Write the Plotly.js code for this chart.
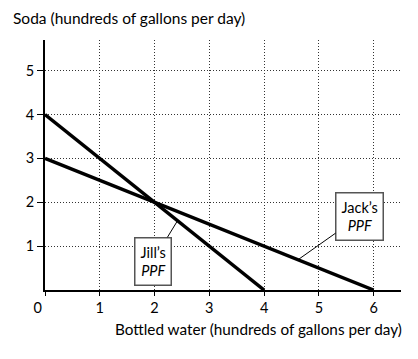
<!DOCTYPE html>
<html>
<head>
<meta charset="utf-8">
<script src="https://cdn.plot.ly/plotly-3.0.1.min.js"></script>
<style>html,body{margin:0;padding:0;background:#fff;}#chart{width:418px;height:359px;}</style>
</head>
<body>
<div id="chart"></div>
<script>
// Data
const jillWater = [0, 4];
const jillSoda = [4, 0];
const jackWater = [0, 6];
const jackSoda = [3, 0];
const xTicks = [0, 1, 2, 3, 4, 5, 6];
const xTickLabels = ['0\u2002\u2002', '1', '2', '3', '4', '5', '6'];
const yTicks = [1, 2, 3, 4, 5];
const yTickLabels = ['1', '2', '3', '4', '5'];

const FONT = 'Lato, "Open Sans", sans-serif';

const traces = [
  {x: jillWater, y: jillSoda, mode: 'lines', line: {color: '#000', width: 3.5}, hoverinfo: 'skip', cliponaxis: false},
  {x: jackWater, y: jackSoda, mode: 'lines', line: {color: '#000', width: 3.5}, hoverinfo: 'skip', cliponaxis: false}
];

const layout = {
  width: 418, height: 359,
  margin: {l: 45, r: 17, t: 40, b: 69},
  paper_bgcolor: '#fff', plot_bgcolor: '#fff',
  showlegend: false,
  font: {family: FONT, color: '#000', size: 14},
  title: {
    text: 'Soda (hundreds of gallons per day)',
    x: 13/418, xanchor: 'left', xref: 'container',
    y: 1 - 19/359, yanchor: 'middle', yref: 'container',
    font: {family: FONT, size: 15.5, color: '#000'}
  },
  xaxis: {
    range: [0, 6.5], tickvals: xTicks, ticktext: xTickLabels,
    showgrid: true, gridcolor: '#333', griddash: '1px,2px', gridwidth: 1,
    zeroline: false, showline: true, linecolor: '#000', linewidth: 2,
    ticks: 'outside', ticklen: 4, tickcolor: '#000',
    tickfont: {family: FONT, size: 14.5, color: '#000'},
    fixedrange: true
  },
  yaxis: {
    range: [0, 5.7], tickvals: yTicks, ticktext: yTickLabels,
    showgrid: true, gridcolor: '#333', griddash: '1px,2px', gridwidth: 1,
    zeroline: false, showline: true, linecolor: '#000', linewidth: 2,
    ticks: 'outside', ticklen: 6, tickcolor: '#000',
    tickfont: {family: FONT, size: 14.5, color: '#000'},
    fixedrange: true
  },
  annotations: [
    {
      x: 2.42, y: 1.58, xref: 'x', yref: 'y',
      ax: 1.97, ay: 0.66, axref: 'x', ayref: 'y',
      text: "Jill’s<br><i>PPF</i>",
      showarrow: true, arrowhead: 0, arrowwidth: 1, arrowcolor: '#000',
      bordercolor: '#555', borderwidth: 1.5, borderpad: 5, bgcolor: '#fff',
      font: {family: FONT, size: 14.5, color: '#000'}
    },
    {
      x: 4.62, y: 0.69, xref: 'x', yref: 'y',
      ax: 5.74, ay: 1.68, axref: 'x', ayref: 'y',
      text: "Jack’s<br><i>PPF</i>",
      showarrow: true, arrowhead: 0, arrowwidth: 1, arrowcolor: '#000',
      bordercolor: '#555', borderwidth: 1.5, borderpad: 5, bgcolor: '#fff',
      font: {family: FONT, size: 14.5, color: '#000'}
    },
    {
      text: 'Bottled water (hundreds of gallons per day)',
      xref: 'paper', yref: 'paper', x: 1, y: -0.156,
      xanchor: 'right', yanchor: 'middle', xshift: 3, showarrow: false,
      font: {family: FONT, size: 15.3, color: '#000'}
    }
  ]
};

Plotly.newPlot('chart', traces, layout, {displayModeBar: false, staticPlot: true});
</script>
</body>
</html>
